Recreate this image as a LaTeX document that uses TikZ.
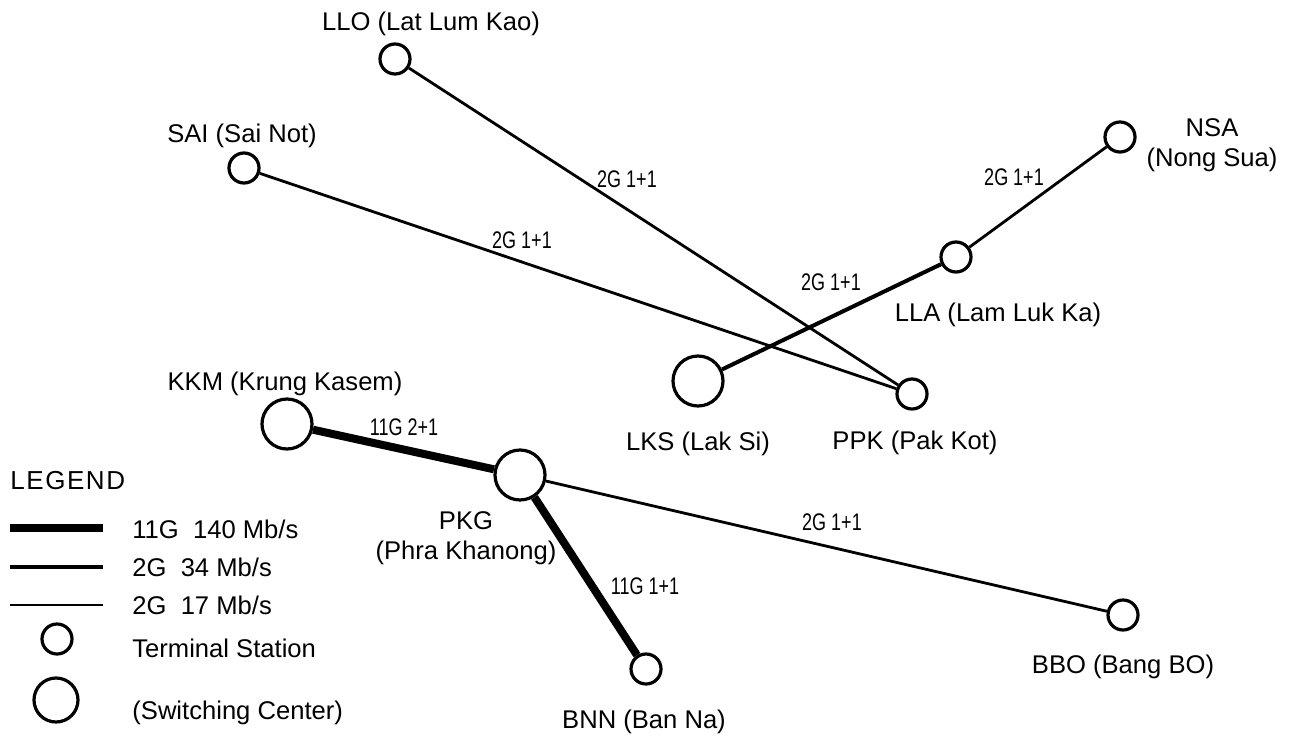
\documentclass[tikz,border=0pt]{standalone}
\usepackage{fontspec}
\setmainfont{Liberation Sans}
\newfontfamily\linkfont[FakeStretch=0.75]{Liberation Sans}
\usepackage{tikz}
\usepackage{xcolor}
\tikzset{
    terminal-station/.style = {draw=black, circle, line width=1.6pt, minimum size=15pt, inner sep=0pt},
    switching-center/.style = {draw=black, circle, line width=1.6pt, minimum size=25pt, inner sep=0pt},
    station-label/.style = {font=\fontsize{12.8pt}{15pt}\selectfont, align=center, inner sep=1pt},
    link-label/.style = {font=\linkfont\fontsize{12pt}{14pt}\selectfont, inner sep=1pt},
    link-11g/.style = {draw=black, line width=4pt},
    link-34/.style = {draw=black, line width=2pt},
    link-17/.style = {draw=black, line width=1.4pt},
}

\begin{document}
\begin{tikzpicture}[x=0.5pt, y=-0.5pt]
\fill[white] (0,0) rectangle (1289,739);
\useasboundingbox (0,0) rectangle (1289,739);

% stations
\node[terminal-station] (llo) at (395,59) {};
\node[terminal-station] (sai) at (244,168) {};
\node[terminal-station] (nsa) at (1120,137) {};
\node[terminal-station] (lla) at (956,257) {};
\node[switching-center] (lks) at (698,381) {};
\node[terminal-station] (ppk) at (912,394) {};
\node[switching-center] (kkm) at (287,424) {};
\node[switching-center] (pkg) at (520,475) {};
\node[terminal-station] (bnn) at (646,669) {};
\node[terminal-station] (bbo) at (1123,615) {};

\node[station-label] (llo-name) at (431,24) {LLO (Lat Lum Kao)};
\node[station-label] (sai-name) at (242,136) {SAI (Sai Not)};
\node[station-label] (nsa-name) at (1212,145) {NSA\\(Nong Sua)};
\node[station-label] (lla-name) at (998,315) {LLA (Lam Luk Ka)};
\node[station-label] (lks-name) at (698,444) {LKS (Lak Si)};
\node[station-label] (ppk-name) at (915,443) {PPK (Pak Kot)};
\node[station-label] (kkm-name) at (285,384) {KKM (Krung Kasem)};
\node[station-label] (pkg-name) at (466,538) {PKG\\(Phra Khanong)};
\node[station-label] (bnn-name) at (644,722) {BNN (Ban Na)};
\node[station-label] (bbo-name) at (1123,667) {BBO (Bang BO)};

% links
\draw[link-17] (llo) -- (ppk);
\draw[link-17] (sai) -- (ppk);
\draw[link-34] (lks) -- (lla);
\draw[link-17] (lla) -- (nsa);
\draw[link-11g] (kkm) -- (pkg);
\draw[link-11g] (pkg) -- (bnn);
\draw[link-17] (pkg) -- (bbo);

\node[link-label] (llo-ppk) at (627,179) {2G 1+1};
\node[link-label] (sai-ppk) at (522,240) {2G 1+1};
\node[link-label] (lks-lla) at (831,282) {2G 1+1};
\node[link-label] (lla-nsa) at (1014,177) {2G 1+1};
\node[link-label] (kkm-pkg) at (404,427) {11G 2+1};
\node[link-label] (pkg-bnn) at (645,586) {11G 1+1};
\node[link-label] (pkg-bbo) at (832,522) {2G 1+1};

% legend
\node[station-label, anchor=west, font=\fontsize{13pt}{15pt}\selectfont\addfontfeature{LetterSpace=6}] (legend) at (8,481) {LEGEND};
\draw[link-11g] (10,528) -- (103,528);
\draw[link-34] (10,567) -- (103,567);
\draw[link-17] (10,605) -- (103,605);
\node[terminal-station] (key-terminal) at (57,639) {};
\node[switching-center, minimum size=22pt] (key-switching) at (56,700) {};
\node[station-label, anchor=west] (key-11g) at (130,529) {11G\ \ 140 Mb/s};
\node[station-label, anchor=west] (key-34) at (130,567) {2G\ \ 34 Mb/s};
\node[station-label, anchor=west] (key-17) at (130,605) {2G\ \ 17 Mb/s};
\node[station-label, anchor=west] (key-terminal-text) at (130,648) {Terminal Station};
\node[station-label, anchor=west] (key-switching-text) at (130,713) {(Switching Center)};
\end{tikzpicture}
\end{document}
